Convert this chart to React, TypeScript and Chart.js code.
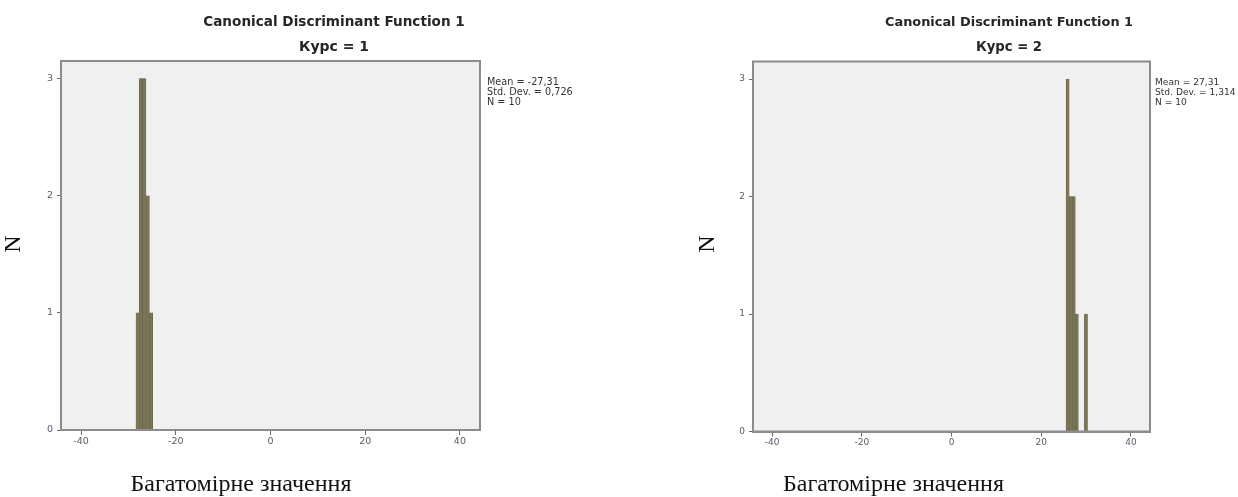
import React, { useEffect, useRef } from "react";
import { Chart, registerables } from "chart.js";

Chart.register(...registerables);

// ---- data ----
const xTicks = [-40, -20, 0, 20, 40];
const yTicks = [0, 1, 2, 3];

// bin centres and counts (histograms of the discriminant scores)
const binsCourse1 = [-28.06, -27.35, -26.65, -25.94, -25.24];
const countsCourse1 = [1, 3, 3, 2, 1];
const binsCourse2 = [25.89, 26.57, 27.25, 27.93, 28.61, 29.29, 29.97];
const countsCourse2 = [3, 2, 2, 1, 0, 0, 1];

const mainTitle = "Canonical Discriminant Function 1";
const subtitleCourse1 = "Курс = 1";
const subtitleCourse2 = "Курс = 2";
const statsCourse1 = ["Mean = -27,31", "Std. Dev. = 0,726", "N = 10"];
const statsCourse2 = ["Mean = 27,31", "Std. Dev. = 1,314", "N = 10"];
const yTitle = "N";
const xTitle = "Багатомірне значення";

const X_MIN = -44.25;
const X_MAX = 44.25;
const Y_MAX = 3.15;

type Panel = {
  left: number;
  width: number;
  height: number;
  area: { left: number; right: number; top: number; bottom: number };
  titleX: number;
  titleY: number;
  titleSize: number;
  subY: number;
  subSize: number;
  statsX: number;
  statsY: number;
  statsSize: number;
  tickSize: number;
  nX: number;
  nY: number;
  xtX: number;
  xtY: number;
  bins: number[];
  counts: number[];
  subtitle: string;
  stats: string[];
};

const panels: Panel[] = [
  {
    left: 0,
    width: 620,
    height: 497,
    area: { left: 61, right: 480, top: 61, bottom: 430 },
    titleX: 334,
    titleY: 22,
    titleSize: 13.6,
    subY: 47,
    subSize: 14,
    statsX: 487,
    statsY: 82,
    statsSize: 9.7,
    tickSize: 9.5,
    nX: 14,
    nY: 244,
    xtX: 241,
    xtY: 485,
    bins: binsCourse1,
    counts: countsCourse1,
    subtitle: subtitleCourse1,
    stats: statsCourse1,
  },
  {
    left: 620,
    width: 618,
    height: 497,
    area: { left: 133, right: 530, top: 61.5, bottom: 431.5 },
    titleX: 389,
    titleY: 22.5,
    titleSize: 12.9,
    subY: 48,
    subSize: 13.2,
    statsX: 535,
    statsY: 83,
    statsSize: 9.1,
    tickSize: 9,
    nX: 87.5,
    nY: 244,
    xtX: 273.5,
    xtY: 485,
    bins: binsCourse2,
    counts: countsCourse2,
    subtitle: subtitleCourse2,
    stats: statsCourse2,
  },
];

function HistPanel({ p }: { p: Panel }) {
  const ref = useRef<HTMLCanvasElement | null>(null);
  useEffect(() => {
    if (!ref.current) return;
    const deco = {
      id: "deco",
      beforeDraw(chart: any) {
        const { ctx, chartArea: a } = chart;
        ctx.save();
        ctx.fillStyle = "#f0f0f0";
        ctx.fillRect(a.left, a.top, a.right - a.left, a.bottom - a.top);
        ctx.restore();
      },
      afterDraw(chart: any) {
        const { ctx, chartArea: a } = chart;
        ctx.save();
        ctx.strokeStyle = "#8c8c8c";
        ctx.lineWidth = 2;
        ctx.strokeRect(a.left, a.top, a.right - a.left, a.bottom - a.top);

        ctx.fillStyle = "#262626";
        ctx.textAlign = "center";
        ctx.textBaseline = "middle";
        ctx.font = `bold ${p.titleSize}px "DejaVu Sans", sans-serif`;
        ctx.fillText(mainTitle, p.titleX, p.titleY);
        ctx.font = `bold ${p.subSize}px "DejaVu Sans", sans-serif`;
        ctx.fillText(p.subtitle, p.titleX, p.subY);

        ctx.textAlign = "left";
        ctx.fillStyle = "#333";
        ctx.font = `${p.statsSize}px "DejaVu Sans", sans-serif`;
        p.stats.forEach((s, i) => ctx.fillText(s, p.statsX, p.statsY + i * 10));

        ctx.fillStyle = "#111";
        ctx.font = '24px "Liberation Serif", serif';
        ctx.textAlign = "center";
        ctx.fillText(xTitle, p.xtX, p.xtY);
        ctx.translate(p.nX, p.nY);
        ctx.rotate(-Math.PI / 2);
        ctx.fillText(yTitle, 0, 0);
        ctx.restore();
      },
    };

    const chart = new Chart(ref.current, {
      type: "bar",
      data: {
        datasets: [
          {
            data: p.bins.map((b, i) => ({ x: b, y: p.counts[i] })),
            backgroundColor: "#7a7656",
            borderColor: "#5f5d45",
            borderWidth: 0.5,
            barPercentage: 1,
            categoryPercentage: 1,
          },
        ],
      },
      options: {
        responsive: false,
        animation: false,
        layout: {
          padding: {
            left: 0,
            right: p.width - p.area.right,
            top: p.area.top,
            bottom: 0,
          },
        },
        plugins: {
          legend: { display: false },
          tooltip: { enabled: false },
          title: { display: false },
        },
        scales: {
          x: {
            type: "linear",
            min: X_MIN,
            max: X_MAX,
            offset: false,
            afterBuildTicks: (scale: any) => {
              scale.ticks = xTicks.map((v) => ({ value: v }));
            },
            afterFit: (scale: any) => {
              scale.height = p.height - p.area.bottom;
            },
            grid: {
              offset: false,
              drawOnChartArea: false,
              drawTicks: true,
              tickLength: 5,
              tickColor: "#666",
              color: "#666",
            },
            border: { display: true, color: "#8c8c8c", width: 2 },
            ticks: {
              color: "#5a5a6e",
              font: { size: p.tickSize, family: '"DejaVu Sans", sans-serif' },
              padding: 1,
              maxRotation: 0,
            },
          },
          y: {
            type: "linear",
            min: 0,
            max: Y_MAX,
            afterBuildTicks: (scale: any) => {
              scale.ticks = yTicks.map((v) => ({ value: v }));
            },
            afterFit: (scale: any) => {
              scale.width = p.area.left;
            },
            grid: {
              drawOnChartArea: false,
              drawTicks: true,
              tickLength: 4,
              tickColor: "#666",
              color: "#666",
            },
            border: { display: true, color: "#8c8c8c", width: 2 },
            ticks: {
              color: "#5a5a6e",
              font: { size: p.tickSize, family: '"DejaVu Sans", sans-serif' },
              padding: 4,
            },
          },
        },
      },
      plugins: [deco],
    } as any);
    return () => chart.destroy();
  }, [p]);
  return (
    <canvas
      ref={ref}
      width={p.width}
      height={p.height}
      style={{ position: "absolute", left: p.left, top: 0, width: p.width, height: p.height }}
    />
  );
}

export default function App() {
  useEffect(() => {
    document.body.style.margin = "0";
    document.body.style.background = "#ffffff";
  }, []);
  return (
    <div style={{ position: "relative", width: 1238, height: 497, background: "#fff" }}>
      {panels.map((p, i) => (
        <HistPanel key={i} p={p} />
      ))}
    </div>
  );
}
